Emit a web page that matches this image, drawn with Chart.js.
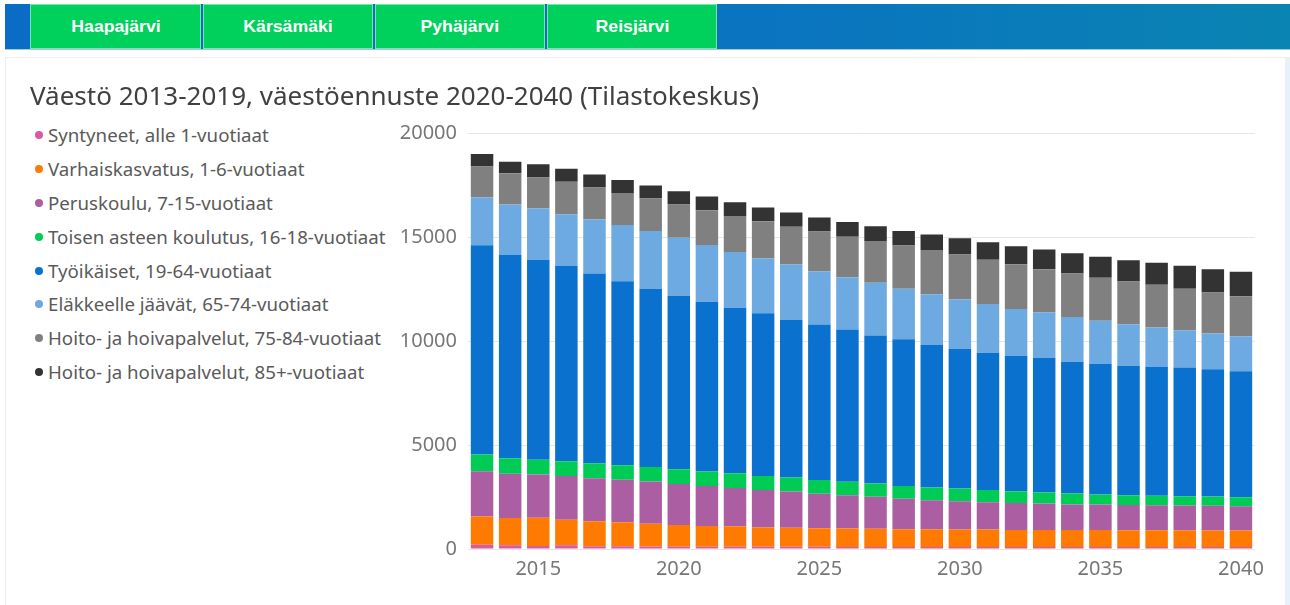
<!DOCTYPE html>
<html lang="fi">
<head>
<meta charset="utf-8">
<title>Väestö</title>
<script src="https://cdn.jsdelivr.net/npm/chart.js@4/dist/chart.umd.min.js"></script>
<style>
  html, body { margin: 0; padding: 0; background: #fff; }
  body { width: 1290px; height: 605px; position: relative; overflow: hidden; font-family: "Noto Sans", sans-serif; }
  .ylapalkki { position: absolute; left: 5px; top: 4px; width: 1285px; height: 45px;
    background: linear-gradient(90deg, #0b6cc6 0%, #0a74c0 60%, #0a84b2 100%);
    border-bottom: 1px solid #9fcbe0; }
  .valilehti { position: absolute; top: 4px; height: 45px; background: #00d05c;
    border: 1px solid #7fe3aa; box-sizing: border-box; color: #fff; font-family: "Liberation Sans", Arial, sans-serif;
    font-weight: bold; font-size: 17px; display: flex; align-items: center; justify-content: center; }
  .valilehti span { display: inline-block; transform: scaleX(1.04); }
  .paneeli { position: absolute; left: 5px; top: 57px; width: 1279px; height: 548px;
    border-left: 1px solid #eceef2; border-top: 1px solid #eceef2; }
  .reuna { position: absolute; left: 1285px; top: 57px; width: 5px; height: 548px; background: #e8f0fa; }
  #selite { position: absolute; left: 34px; top: 118px; margin: 0; padding: 0; list-style: none; }
  #selite li { height: 33.9px; line-height: 34px; font-size: 18.7px; color: #5a5a5a; white-space: nowrap; position: relative; padding-left: 14px; }
  #selite li i { position: absolute; left: 1px; top: 13px; width: 8px; height: 8px; border-radius: 50%; }
  .kaavio { position: absolute; left: 30px; top: 70px; width: 1250px; height: 524px; }
</style>
</head>
<body>
<div class="ylapalkki"></div>
<div class="valilehti" style="left:30px;width:171px"><span>Haapajärvi</span></div>
<div class="valilehti" style="left:203px;width:170px"><span>Kärsämäki</span></div>
<div class="valilehti" style="left:375px;width:170px"><span>Pyhäjärvi</span></div>
<div class="valilehti" style="left:547px;width:170px"><span>Reisjärvi</span></div>
<div class="paneeli"></div>
<div class="reuna"></div>
<ul id="selite"></ul>
<div class="kaavio"><canvas id="vaesto"></canvas></div>
<script>
// Vuodet ja ikäryhmät
const vuodet = [2013, 2014, 2015, 2016, 2017, 2018, 2019, 2020, 2021, 2022, 2023, 2024, 2025, 2026,
  2027, 2028, 2029, 2030, 2031, 2032, 2033, 2034, 2035, 2036, 2037, 2038, 2039, 2040];

const syntyneet = [210, 180, 150, 175, 130, 130, 115, 112, 112, 110, 110, 110, 108, 100,
  100, 98, 98, 97, 97, 96, 96, 96, 96, 96, 96, 95, 95, 95];
const varhaiskasvatus = [1350, 1315, 1350, 1235, 1205, 1155, 1095, 1045, 995, 980, 930, 915, 885, 885,
  870, 850, 850, 835, 835, 820, 820, 820, 820, 805, 805, 805, 790, 790];
const peruskoulu = [2185, 2120, 2085, 2105, 2070, 2040, 2040, 1975, 1925, 1845, 1800, 1735, 1670, 1605,
  1540, 1475, 1400, 1365, 1315, 1300, 1270, 1220, 1220, 1220, 1205, 1190, 1190, 1175];
const toinenAste = [805, 755, 705, 705, 720, 705, 690, 705, 690, 705, 675, 675, 660, 640,
  645, 610, 610, 610, 595, 560, 530, 530, 480, 465, 450, 450, 450, 435];
const tyoikaiset = [10055, 9780, 9605, 9395, 9125, 8850, 8575, 8335, 8175, 7965, 7820, 7595, 7470, 7325,
  7115, 7050, 6860, 6730, 6600, 6505, 6470, 6345, 6295, 6230, 6200, 6185, 6120, 6055];
const elakkeelle = [2310, 2425, 2490, 2490, 2600, 2700, 2780, 2795, 2730, 2680, 2635, 2650, 2555, 2520,
  2540, 2440, 2440, 2375, 2345, 2265, 2185, 2150, 2070, 1990, 1895, 1800, 1720, 1685];
const hoito75 = [1480, 1495, 1480, 1560, 1540, 1540, 1560, 1605, 1670, 1735, 1800, 1815, 1925, 1945,
  2005, 2070, 2120, 2150, 2120, 2150, 2090, 2090, 2070, 2055, 2055, 1990, 1975, 1925];
const hoito85 = [610, 560, 640, 625, 625, 625, 625, 640, 660, 660, 660, 690, 675, 705,
  705, 705, 755, 790, 850, 865, 950, 980, 1010, 1030, 1060, 1110, 1110, 1175];

const nimet = [
  'Syntyneet, alle 1-vuotiaat',
  'Varhaiskasvatus, 1-6-vuotiaat',
  'Peruskoulu, 7-15-vuotiaat',
  'Toisen asteen koulutus, 16-18-vuotiaat',
  'Työikäiset, 19-64-vuotiaat',
  'Eläkkeelle jäävät, 65-74-vuotiaat',
  'Hoito- ja hoivapalvelut, 75-84-vuotiaat',
  'Hoito- ja hoivapalvelut, 85+-vuotiaat'
];
const varit = ['#d95aa0', '#ff7a00', '#ab5fa2', '#00cc55', '#0a72ce', '#6caae1', '#808080', '#333333'];
const sarjat = [syntyneet, varhaiskasvatus, peruskoulu, toinenAste, tyoikaiset, elakkeelle, hoito75, hoito85];

const yTiketit = [0, 5000, 10000, 15000, 20000];

// Selite (html)
const selite = document.getElementById('selite');
nimet.forEach((n, i) => {
  const li = document.createElement('li');
  li.innerHTML = '<i style="background:' + varit[i] + '"></i>' + n;
  selite.appendChild(li);
});

const fontti = '"Noto Sans", "Open Sans", sans-serif';

const vaestoChart = new Chart(document.getElementById('vaesto'), {
  type: 'bar',
  data: {
    labels: vuodet,
    datasets: sarjat.map((s, i) => ({
      label: nimet[i],
      data: s,
      backgroundColor: varit[i],
      borderWidth: 0,
      categoryPercentage: 0.8,
      barPercentage: 1
    }))
  },
  options: {
    responsive: true,
    maintainAspectRatio: false,
    animation: false,
    layout: { padding: { top: 0, right: 25, bottom: 5, left: 0 } },
    plugins: {
      legend: { display: false },
      tooltip: { enabled: false },
      title: {
        display: true,
        text: 'Väestö 2013-2019, väestöennuste 2020-2040 (Tilastokeskus)',
        align: 'start',
        color: '#404040',
        font: { family: fontti, size: 26, weight: 'normal' },
        padding: { top: 12, bottom: 20 }
      }
    },
    scales: {
      x: {
        stacked: true,
        grid: { display: false, drawTicks: false },
        border: { display: false },
        ticks: {
          autoSkip: false,
          maxRotation: 0,
          padding: 8,
          color: '#777',
          font: { family: fontti, size: 20 },
          callback: function (v, i) { return vuodet[i] % 5 === 0 ? String(vuodet[i]) : ''; }
        }
      },
      y: {
        stacked: true,
        min: 0,
        max: 20000,
        afterFit: (s) => { s.width = 438; },
        afterBuildTicks: (s) => { s.ticks = yTiketit.map(v => ({ value: v })); },
        grid: { color: '#e6e6e6', drawTicks: false, lineWidth: 1 },
        border: { display: false },
        ticks: {
          padding: 11,
          color: '#777',
          font: { family: fontti, size: 20 },
          callback: (v) => String(v)
        }
      }
    }
  }
});
</script>
</body>
</html>
